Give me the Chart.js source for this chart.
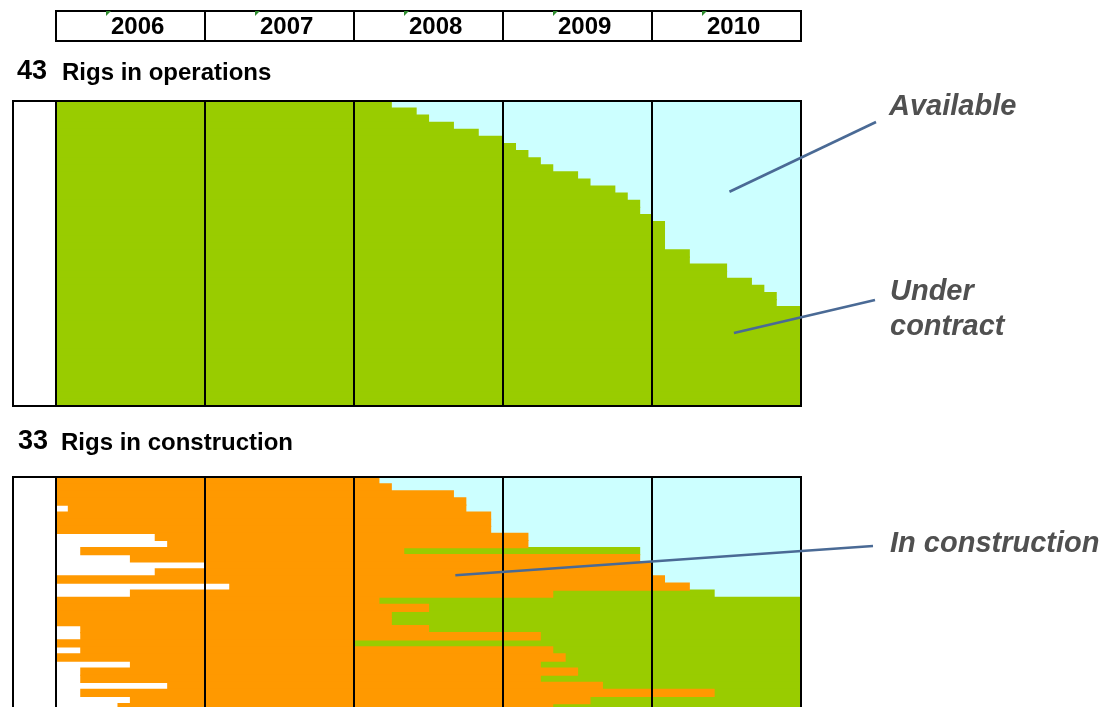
<!DOCTYPE html>
<html>
<head>
<meta charset="utf-8">
<script src="https://cdn.jsdelivr.net/npm/chart.js@4/dist/chart.umd.min.js"></script>
<style>
  html, body { margin: 0; padding: 0; background: #fff; width: 1104px; height: 707px; overflow: hidden; }
  #wrap { position: relative; width: 1104px; height: 707px; }
  canvas { position: absolute; left: 0; }
  .t { position: absolute; white-space: nowrap; font-family: "Liberation Sans", Arial, sans-serif;
       font-weight: bold; color: #000; }
  .note { font-style: italic; color: #505050; font-size: 29px; line-height: 29px; }
</style>
</head>
<body>
<div id="wrap">
  <canvas id="ops" width="1104" height="420" style="top:0"></canvas>
  <canvas id="build" width="1104" height="300" style="top:420px"></canvas>
</div>
<script>
// Planning horizon shown on the time axis
const YEARS = [2006, 2007, 2008, 2009, 2010];

// Rigs in operation: month in which each rig's current contract runs out
// ('2011-01' = still on contract past the end of 2010)
const opsContractEnd = [
  '2008-04', '2008-06', '2008-07', '2008-09', '2008-11', '2009-01', '2009-02', '2009-03',
  '2009-04', '2009-05', '2009-07', '2009-08', '2009-10', '2009-11', '2009-12', '2009-12',
  '2010-01', '2010-02', '2010-02', '2010-02', '2010-02', '2010-04', '2010-04', '2010-07',
  '2010-07', '2010-09', '2010-10', '2010-11', '2010-11',
  '2011-01', '2011-01', '2011-01', '2011-01', '2011-01', '2011-01', '2011-01',
  '2011-01', '2011-01', '2011-01', '2011-01', '2011-01', '2011-01', '2011-01'
];

// Rigs in construction: yard start, delivery, and end of first contract (null = no contract yet)
const buildStart = [
  '2006-01', '2006-01', '2006-01', '2006-01', '2006-02', '2006-01', '2006-01', '2006-01',
  '2006-09', '2006-10', '2006-03', '2006-07', '2007-01', '2006-09', '2006-01', '2007-03',
  '2006-07', '2006-01', '2006-01', '2006-01', '2006-01', '2006-03', '2006-03', '2006-01',
  '2006-03', '2006-01', '2006-07', '2006-03', '2006-03', '2006-10', '2006-03', '2006-07',
  '2006-06'
];
const buildDelivery = [
  '2008-03', '2008-04', '2008-09', '2008-10', '2008-10', '2008-12', '2008-12', '2008-12',
  '2009-03', '2009-03', '2008-05', '2009-12', '2010-01', '2010-01', '2010-02', '2010-04',
  '2009-05', '2008-03', '2008-07', '2008-04', '2008-04', '2008-07', '2009-04', '2008-01',
  '2009-05', '2009-06', '2009-04', '2009-07', '2009-04', '2009-09', '2010-06', '2009-08',
  '2009-05'
];
const buildContractEnd = [
  null, null, null, null, null, null, null, null,
  null, null, '2009-12', null, null, null, null, null,
  '2010-06', '2011-01', '2011-01', '2011-01', '2011-01', '2011-01', '2011-01', '2011-01',
  '2011-01', '2011-01', '2011-01', '2011-01', '2011-01', '2011-01', '2011-01', '2011-01',
  '2011-01'
];

const GREEN = '#99CC00', CYAN = '#CCFFFF', ORANGE = '#FF9900';
const LEADER = '#4A6A95';
const T0 = YEARS[0], T1 = YEARS[YEARS.length - 1] + 1;
const LABEL_COL = 43;   // blank name column left of 2006

const toYear = s => { const [y, m] = s.split('-').map(Number); return y + (m - 1) / 12; };
const seg = (a, b) => (b > a ? [a, b] : null);

// Panel frame: outer box incl. name column, plus a rule at every year boundary
function drawFrame(chart) {
  const ctx = chart.ctx, a = chart.chartArea, x = chart.scales.x;
  ctx.save();
  ctx.strokeStyle = '#000';
  ctx.lineWidth = 2;
  const l = Math.round(a.left) - LABEL_COL, r = Math.round(x.getPixelForValue(T1));
  const t = Math.round(a.top), b = Math.round(a.bottom);
  ctx.strokeRect(l, t, r - l, b - t);
  YEARS.forEach(yr => {
    const px = Math.round(x.getPixelForValue(yr));
    ctx.beginPath(); ctx.moveTo(px, t); ctx.lineTo(px, b); ctx.stroke();
  });
  ctx.restore();
}

// Callout line from a point inside the plot (data units) to a label outside it
function drawLeader(chart, anchor, to) {
  const ctx = chart.ctx;
  const px = chart.scales.x.getPixelForValue(anchor.year);
  const py = chart.scales.y.getPixelForValue(anchor.row);
  ctx.save();
  ctx.strokeStyle = LEADER;
  ctx.lineWidth = 2.6;
  ctx.beginPath(); ctx.moveTo(px, py); ctx.lineTo(to[0], to[1] - chart.canvas.offsetTop); ctx.stroke();
  ctx.restore();
}

// Year header strip above the first panel
function drawYearHeader(chart) {
  const ctx = chart.ctx, x = chart.scales.x;
  const top = 11, bottom = 41;
  ctx.save();
  ctx.strokeStyle = '#000';
  ctx.lineWidth = 2;
  const l = Math.round(x.getPixelForValue(T0)), r = Math.round(x.getPixelForValue(T1));
  ctx.strokeRect(l, top, r - l, bottom - top);
  YEARS.forEach(yr => {
    const px = Math.round(x.getPixelForValue(yr));
    ctx.beginPath(); ctx.moveTo(px, top); ctx.lineTo(px, bottom); ctx.stroke();
    // small cell marker in each year cell
    ctx.fillStyle = '#2E8B2E';
    ctx.beginPath();
    ctx.moveTo(px + 50, 11); ctx.lineTo(px + 55, 11); ctx.lineTo(px + 50, 16); ctx.closePath();
    ctx.fill();
  });
  ctx.restore();
}

const barDefaults = {
  grouped: false, barPercentage: 1, categoryPercentage: 1, borderWidth: 0, inflateAmount: 0.6
};
const commonOptions = (padding) => ({
  indexAxis: 'y',
  responsive: false,
  animation: false,
  devicePixelRatio: 1,
  layout: { padding },
  datasets: { bar: barDefaults },
  scales: {
    x: { type: 'linear', min: T0, max: T1, display: false },
    y: { display: false }
  },
  plugins: { legend: { display: false }, tooltip: { enabled: false } }
});

// ---- Rigs in operations
const opsChart = new Chart(document.getElementById('ops'), {
  type: 'bar',
  data: {
    labels: opsContractEnd.map((_, i) => 'Rig ' + (i + 1)),
    datasets: [
      { label: 'Under contract', backgroundColor: GREEN,
        data: opsContractEnd.map(e => seg(T0, Math.min(toYear(e), T1))) },
      { label: 'Available', backgroundColor: CYAN,
        data: opsContractEnd.map(e => seg(toYear(e), T1)) }
    ]
  },
  options: commonOptions({ left: 56, right: 303, top: 101, bottom: 14 }),
  plugins: [{
    id: 'opsDecor',
    afterDatasetsDraw(chart) {
      drawFrame(chart);
      drawYearHeader(chart);
      drawLeader(chart, { year: 2010.52, row: 12.3 }, [876, 122]);
      drawLeader(chart, { year: 2010.55, row: 32.2 }, [875, 300]);
    }
  }]
});

// ---- Rigs in construction
const buildChart = new Chart(document.getElementById('build'), {
  type: 'bar',
  data: {
    labels: buildStart.map((_, i) => 'Newbuild ' + (i + 1)),
    datasets: [
      { label: 'In construction', backgroundColor: ORANGE,
        data: buildStart.map((s, i) => seg(toYear(s), toYear(buildDelivery[i]))) },
      { label: 'Under contract', backgroundColor: GREEN,
        data: buildContractEnd.map((c, i) => c ? seg(toYear(buildDelivery[i]), Math.min(toYear(c), T1)) : null) },
      { label: 'Available', backgroundColor: CYAN,
        data: buildContractEnd.map((c, i) => seg(toYear(c || buildDelivery[i]), T1)) }
    ]
  },
  options: commonOptions({ left: 56, right: 303, top: 56.7, bottom: 9.3 }),
  plugins: [{
    id: 'buildDecor',
    afterDatasetsDraw(chart) {
      drawFrame(chart);
      drawLeader(chart, { year: 2008.68, row: 13.4 }, [873, 546]);
    }
  }]
});

// ---- Text labels (placed by baseline)
const wrap = document.getElementById('wrap');
function addText(txt, left, baseline, size, cls) {
  const d = document.createElement('div');
  d.className = 't' + (cls ? ' ' + cls : '');
  d.textContent = txt;
  d.style.fontSize = size + 'px';
  d.style.lineHeight = size + 'px';
  d.style.left = left + 'px';
  d.style.top = (baseline - 0.8465 * size) + 'px';
  wrap.appendChild(d);
  return d;
}
YEARS.forEach(yr => addText(String(yr), Math.round(opsChart.scales.x.getPixelForValue(yr)) + 55, 34, 24));
addText(String(opsContractEnd.length), 17, 80, 27);
addText('Rigs in operations', 62, 80, 24);
addText(String(buildStart.length), 18, 450, 27);
addText('Rigs in construction', 61, 450, 24);
addText('Available', 889, 116, 29, 'note');
addText('Under', 890, 301, 29, 'note');
addText('contract', 890, 336, 29, 'note');
addText('In construction', 890, 553, 29, 'note');
</script>
</body>
</html>
